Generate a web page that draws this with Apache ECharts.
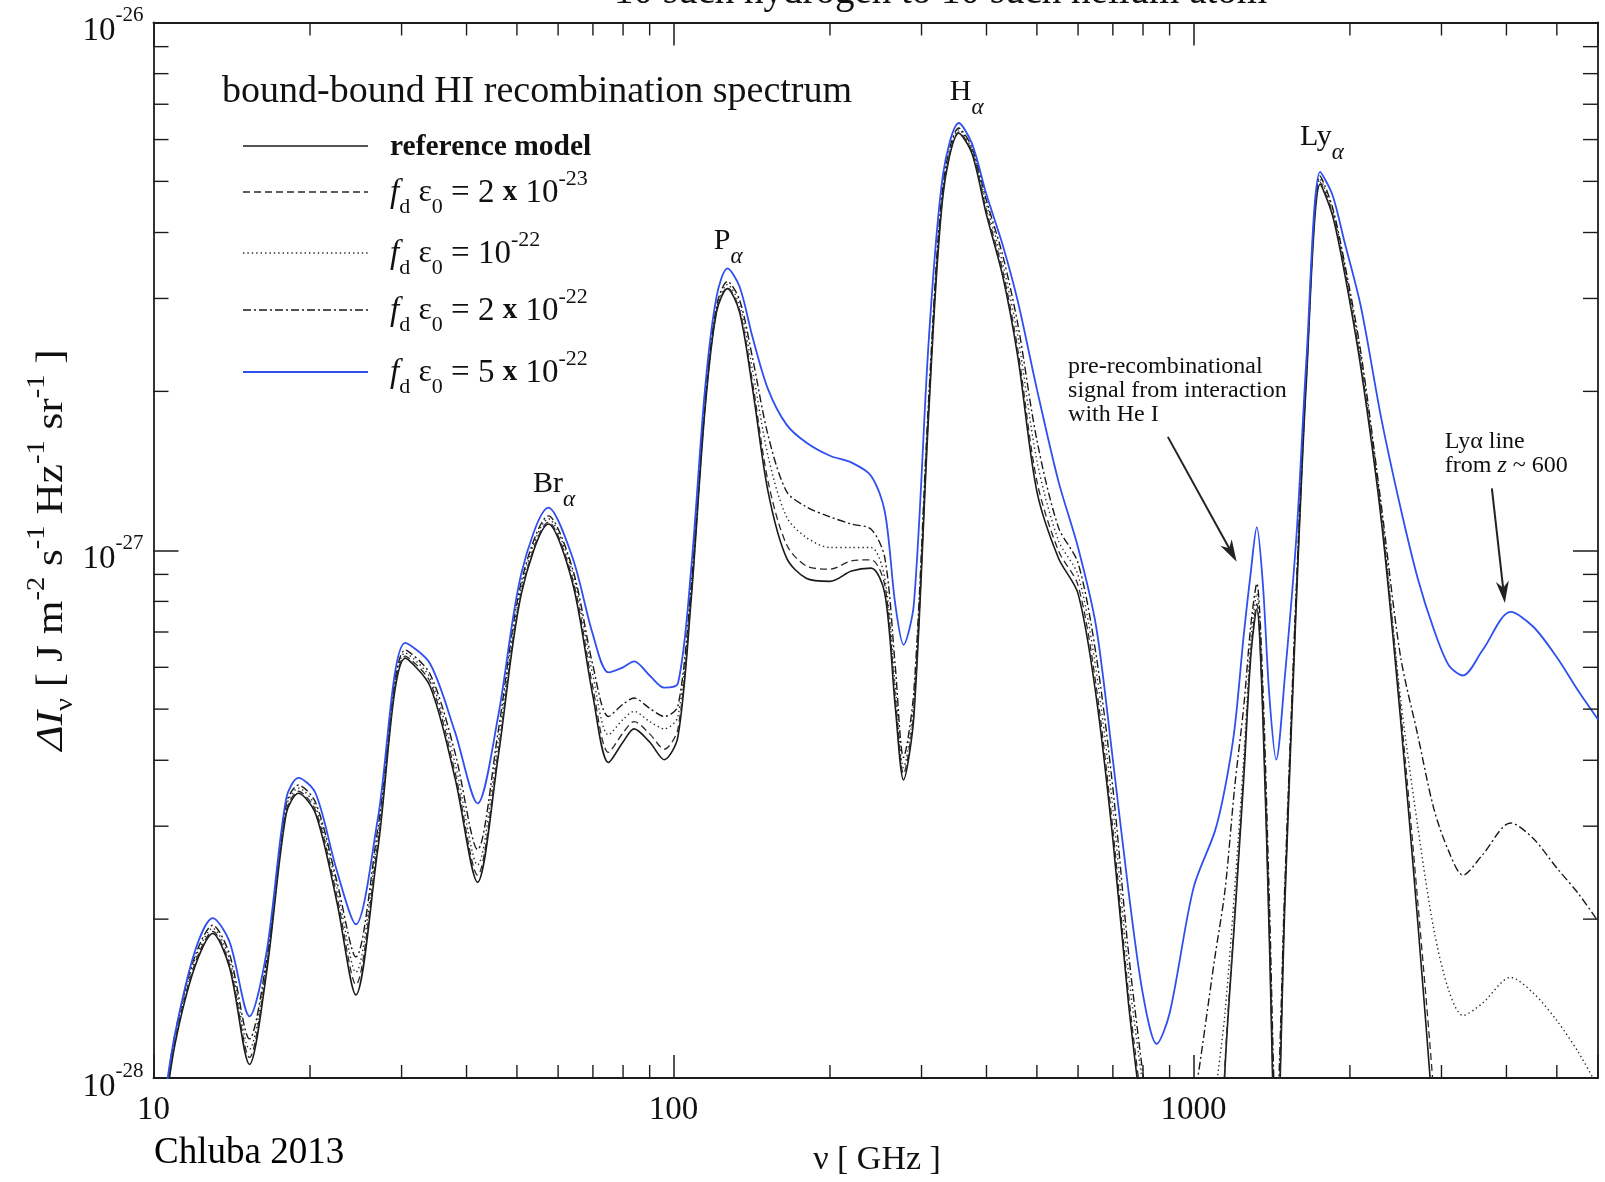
<!DOCTYPE html>
<html>
<head>
<meta charset="utf-8">
<script src="https://cdn.jsdelivr.net/npm/echarts@6/dist/echarts.min.js"></script>
<style>
html,body{margin:0;padding:0;background:#fff;}
#c{width:1605px;height:1182px;}
</style>
</head>
<body>
<div id="c"></div>
<script>
// ---------------- data (frequency in GHz, intensity in units of 1e-28 J m^-2 s^-1 Hz^-1 sr^-1) -------------
const nu = [10.5, 11, 12, 13, 14, 15.3, 16.5, 18, 19, 20.5, 22.5, 24.5, 27, 30.5, 34, 38, 42, 46, 51, 57.5,
  64, 70, 75, 80, 84, 90, 96, 102, 108, 115, 121, 127, 134, 142, 152, 165, 180, 200, 220, 240,
  255, 267, 277, 290, 310, 330, 354, 375, 400, 430, 460, 500, 550, 600, 650, 700, 750, 800, 850, 900,
  1000, 1100, 1150, 1200, 1250, 1290, 1324, 1360, 1400, 1443, 1500, 1580, 1650, 1753, 1850, 1950, 2100, 2300, 2500, 2700,
  2900, 3100, 3300, 3600, 4075, 4500, 5000, 5500, 6000];

const refModel = [0.848, 1.160, 1.621, 1.878, 1.621, 1.061, 1.586, 3.168, 3.464, 3.168,
  2.167, 1.437, 2.710, 6.246, 5.536, 3.704, 2.349, 4.050, 8.277, 11.21,
  8.65, 5.29, 3.961, 4.331, 4.588, 4.331, 4.01, 4.429, 7.91, 18.49,
  28.26, 31.32, 28.26, 20.2, 12.93, 9.67, 8.85, 8.73, 9.13, 9.25,
  8.277, 5.063, 3.671, 4.842, 18.49, 47.2, 61.7, 56.5, 43.2, 33.0,
  23.1, 12.93, 9.67, 8.277, 5.29, 2.833, 1.387, 0.811, 0.519, 0.332,
  0.213, 0.332, 1.037, 1.982, 3.704, 6.33, 7.74, 4.842, 1.813, 0.649,
  2.167, 8.277, 21.1, 49.4, 43.2, 33.8, 22.1, 11.31, 4.842, 1.982,
  0.811, 0.332, 0.213, 0.2, 0.2, 0.2, 0.2, 0.2, 0.2];

const fd2e23 = [0.868, 1.181, 1.643, 1.895, 1.643, 1.094, 1.614, 3.211, 3.494, 3.211,
  2.226, 1.503, 2.782, 6.30, 5.64, 3.805, 2.423, 4.141, 8.35, 11.31,
  8.81, 5.49, 4.141, 4.508, 4.735, 4.488, 4.198, 4.588, 8.06, 18.66,
  28.39, 31.46, 28.51, 20.76, 13.52, 10.25, 9.34, 9.21, 9.545, 9.59,
  8.58, 5.29, 3.771, 4.974, 18.91, 47.6, 62.0, 56.98, 43.97, 33.8,
  23.85, 13.52, 9.98, 8.58, 5.536, 2.963, 1.450, 0.848, 0.519, 0.332,
  0.213, 0.332, 1.061, 2.027, 3.839, 6.47, 7.91, 4.951, 1.878, 0.679,
  2.216, 8.46, 21.42, 49.83, 43.58, 34.2, 22.50, 11.57, 5.063, 2.167,
  0.928, 0.332, 0.213, 0.213, 0.213, 0.213, 0.213, 0.213, 0.213];

const fd1e22 = [0.879, 1.197, 1.672, 1.921, 1.680, 1.134, 1.651, 3.268, 3.542, 3.268,
  2.307, 1.586, 2.872, 6.389, 5.737, 3.961, 2.534, 4.331, 8.54, 11.47,
  9.05, 5.79, 4.468, 4.78, 4.951, 4.735, 4.588, 4.842, 8.277, 18.91,
  28.63, 31.88, 29.15, 21.9, 15.1, 11.57, 10.58, 10.12, 10.12, 10.12,
  8.85, 5.536, 3.873, 5.177, 19.33, 48.3, 62.6, 57.5, 45.2, 34.85,
  25.3, 14.79, 10.44, 8.97, 5.92, 3.239, 1.586, 0.961, 0.649, 0.415,
  0.332, 0.907, 1.326, 2.266, 4.050, 6.77, 8.277, 5.177, 1.982, 0.742,
  2.266, 8.65, 21.9, 50.5, 44.2, 34.85, 23.1, 11.83, 5.29, 3.002,
  1.912, 1.463, 1.314, 1.387, 1.551, 1.450, 1.285, 1.119, 0.961];

const fd2e22 = [0.887, 1.213, 1.696, 1.947, 1.718, 1.186, 1.680, 3.313, 3.590, 3.327,
  2.370, 1.696, 2.963, 6.47, 5.84, 4.141, 2.710, 4.527, 8.73, 11.62,
  9.21, 6.05, 4.842, 5.108, 5.248, 5.017, 4.842, 5.063, 8.46, 19.16,
  29.03, 32.31, 29.82, 23.1, 16.53, 12.93, 12.09, 11.57, 11.21, 10.96,
  9.67, 6.05, 4.050, 5.41, 19.77, 49.4, 63.1, 58.0, 45.98, 36.13,
  26.66, 16.17, 11.06, 9.46, 6.33, 3.542, 1.733, 1.014, 0.649, 0.519,
  0.887, 1.696, 2.266, 3.542, 5.063, 7.24, 8.65, 5.536, 2.167, 0.811,
  2.370, 8.85, 22.1, 51.2, 44.76, 35.32, 23.64, 12.09, 6.33, 4.468,
  3.239, 2.685, 2.423, 2.650, 3.043, 2.846, 2.500, 2.236, 1.982];

const fd5e22 = [0.907, 1.213, 1.733, 2.009, 1.813, 1.309, 1.733, 3.388, 3.704, 3.464,
  2.478, 1.956, 3.098, 6.678, 6.107, 4.527, 3.313, 4.842, 9.05, 12.04,
  9.67, 6.92, 5.87, 6.00, 6.16, 5.79, 5.49, 5.59, 9.05, 20.2,
  30.2, 34.2, 31.6, 25.3, 20.2, 17.3, 16.0, 15.1, 14.66, 13.83,
  11.83, 7.91, 6.62, 7.91, 25.3, 51.6, 64.5, 59.0, 47.2, 37.8,
  29.5, 20.2, 13.52, 10.12, 7.17, 4.01, 2.266, 1.437, 1.160, 1.326,
  2.287, 2.936, 3.542, 4.588, 6.92, 9.13, 11.06, 8.65, 5.29, 4.01,
  5.79, 10.82, 23.1, 52.1, 47.2, 38.6, 28.9, 17.7, 12.09, 8.85,
  7.08, 6.05, 5.79, 6.47, 7.64, 7.17, 6.27, 5.41, 4.78];

const seriesNames = ['reference model', 'f_d e_0 = 2 x 10^-23', 'f_d e_0 = 10^-22', 'f_d e_0 = 2 x 10^-22', 'f_d e_0 = 5 x 10^-22'];
const legendLabels = [
  '{r|reference model}',
  '{f|f}{sub|d} {e|ε}{sub|0} = 2 {x|x} 10{sup|-23}',
  '{f|f}{sub|d} {e|ε}{sub|0} = 10{sup|-22}',
  '{f|f}{sub|d} {e|ε}{sub|0} = 2 {x|x} 10{sup|-22}',
  '{f|f}{sub|d} {e|ε}{sub|0} = 5 {x|x} 10{sup|-22}'
];

const xTickLabels = {10: '10', 100: '100', 1000: '1000'};
const yTickExponents = {1: '-28', 10: '-27', 100: '-26'};
const xMinorTicks = [20, 30, 40, 50, 60, 70, 80, 90, 200, 300, 400, 500, 600, 700, 800, 900, 2000, 3000, 4000, 5000];
const yMinorTicks = [2, 3, 4, 5, 6, 7, 8, 9, 20, 30, 40, 50, 60, 70, 80, 90];

// line identifications [GHz, 1e-28 units]
const lineLabels = [
  {base: 'Br', sub: 'α', at: [53.7, 13.35]},
  {base: 'P', sub: 'α', at: [119.6, 38.5]},
  {base: 'H', sub: 'α', at: [340, 73.8]},
  {base: 'Ly', sub: 'α', at: [1603, 60.7]}
];
const notes = [
  {text: 'pre-recombinational\nsignal from interaction\nwith He I', at: [574, 20.1]},
  {text: 'Lyα line\n{n|from }{i|z}{n| ~ 600}', at: [3045, 15.25]}
];
const arrows = [
  {from: [893, 16.4], to: [1211, 9.51]},
  {from: [3750, 13.1], to: [3972, 7.94]}
];

// ---------------- layout / style -------------
const SERIF = '"Liberation Serif", "Times New Roman", serif';
const X_MIN = 10, X_MAX = 6000, Y_MIN = 1, Y_MAX = 100;
const INK = '#1c1c1c';
const styles = [
  {color: '#1a1a1a', width: 1.6, type: 'solid'},
  {color: '#2a2a2a', width: 1.3, type: [7, 4]},
  {color: '#2a2a2a', width: 1.4, type: [1.4, 3]},
  {color: '#1a1a1a', width: 1.4, type: [8, 3, 2, 3]},
  {color: '#2f50ee', width: 1.8, type: 'solid'}
];
const dataSets = [refModel, fd2e23, fd1e22, fd2e22, fd5e22];

const chart = echarts.init(document.getElementById('c'), null, {renderer: 'canvas', width: 1605, height: 1182});

const axisLine = {show: true, lineStyle: {color: INK, width: 1.8}};
function xAxisDef(pos) {
  return {
    type: 'log', logBase: 10, min: X_MIN, max: X_MAX, position: pos,
    axisLine: axisLine,
    axisTick: {show: true, inside: true, length: 23, lineStyle: {color: INK, width: 1.5}},
    axisLabel: pos === 'bottom' ? {
      show: true, margin: 16, fontFamily: SERIF, fontSize: 33, color: '#111',
      formatter: v => xTickLabels[Math.round(v)] || ''
    } : {show: false},
    splitLine: {show: false}
  };
}
function yAxisDef(pos) {
  return {
    type: 'log', logBase: 10, min: Y_MIN, max: Y_MAX, position: pos,
    axisLine: axisLine,
    axisTick: {show: true, inside: true, length: 25, lineStyle: {color: INK, width: 1.5}},
    axisLabel: pos === 'left' ? {
      show: true, margin: 10, color: '#111',
      formatter: v => {
        const e = yTickExponents[Math.round(v)];
        return e ? '{b|10}{s|' + e + '}' : '';
      },
      rich: {
        b: {fontFamily: SERIF, fontSize: 33, color: '#111', padding: [18, 0, 0, 0]},
        s: {fontFamily: SERIF, fontSize: 21, color: '#111', padding: [0, 0, 14, 0]}
      }
    } : {show: false},
    splitLine: {show: false}
  };
}

function tickSeries(values, dir) {
  return {
    type: 'custom', silent: true, z: 5, xAxisIndex: 0, yAxisIndex: 0,
    data: values.map(v => dir === 'x' ? [v, Y_MIN] : [X_MIN, v]),
    renderItem: (params, api) => {
      const v = dir === 'x' ? api.value(0) : api.value(1);
      const st = {stroke: INK, lineWidth: 1.4};
      if (dir === 'x') {
        const b = api.coord([v, Y_MIN]), t = api.coord([v, Y_MAX]);
        return {type: 'group', children: [
          {type: 'line', shape: {x1: b[0], y1: b[1], x2: b[0], y2: b[1] - 13}, style: st},
          {type: 'line', shape: {x1: t[0], y1: t[1], x2: t[0], y2: t[1] + 13}, style: st}
        ]};
      }
      const l = api.coord([X_MIN, v]), r = api.coord([X_MAX, v]);
      return {type: 'group', children: [
        {type: 'line', shape: {x1: l[0], y1: l[1], x2: l[0] + 15, y2: l[1]}, style: st},
        {type: 'line', shape: {x1: r[0], y1: r[1], x2: r[0] - 15, y2: r[1]}, style: st}
      ]};
    }
  };
}

const series = dataSets.map((d, i) => ({
  type: 'line', name: seriesNames[i],
  data: nu.map((x, k) => [x, d[k]]),
  showSymbol: false, symbol: 'none', smooth: 0.3, clip: true,
  z: i === 4 ? 4 : 3,
  lineStyle: {color: styles[i].color, width: styles[i].width, type: styles[i].type},
  emphasis: {disabled: true}
}));
series.push(tickSeries(xMinorTicks, 'x'));
series.push(tickSeries(yMinorTicks, 'y'));

chart.setOption({
  animation: false,
  backgroundColor: '#ffffff',
  grid: {left: 153.5, right: 7, top: 22.5, bottom: 104, containLabel: false},
  xAxis: [xAxisDef('bottom'), xAxisDef('top')],
  yAxis: [yAxisDef('left'), yAxisDef('right')],
  series: series
});

// ---------------- annotations anchored to data coordinates -------------
const px = p => chart.convertToPixel({gridIndex: 0}, p);
const graphics = [];

// partially visible heading at the very top (cut off by the page edge)
graphics.push({type: 'text', z: 10, style: {text: '10 such hydrogen to 10 such helium atom', x: 614, y: -7,
  fontFamily: SERIF, fontSize: 39, fill: '#111', align: 'left', verticalAlign: 'middle'}});

// legend block
graphics.push({type: 'text', z: 10, style: {text: 'bound-bound HI recombination spectrum', x: 222, y: 92,
  fontFamily: SERIF, fontSize: 38, fill: '#111', align: 'left', verticalAlign: 'middle'}});
const legendY = [146, 192, 253, 310, 372];
const legendRich = {
  r: {fontFamily: SERIF, fontSize: 29.5, fontWeight: 'bold', fill: '#111'},
  f: {fontFamily: SERIF, fontSize: 33, fontStyle: 'italic', fill: '#111'},
  e: {fontFamily: SERIF, fontSize: 32, fill: '#111'},
  x: {fontFamily: SERIF, fontSize: 29, fontWeight: 'bold', fill: '#111'},
  sub: {fontFamily: SERIF, fontSize: 22, fill: '#111', padding: [28, 0, 0, 0]},
  sup: {fontFamily: SERIF, fontSize: 22, fill: '#111', padding: [0, 0, 27, 0]}
};
legendY.forEach((y, i) => {
  const s = styles[i];
  graphics.push({type: 'line', z: 10, shape: {x1: 243, y1: y, x2: 368, y2: y},
    style: {stroke: s.color, lineWidth: s.width, lineDash: Array.isArray(s.type) ? s.type : null}});
  graphics.push({type: 'text', z: 10, style: {text: legendLabels[i], x: 390, y: y + 1,
    fontFamily: SERIF, fontSize: 33, fill: '#111', align: 'left', verticalAlign: 'middle', rich: legendRich}});
});

// line identifications
lineLabels.forEach(l => {
  const p = px(l.at);
  graphics.push({type: 'text', z: 10, style: {text: '{b|' + l.base + '}{s|' + l.sub + '}', x: p[0], y: p[1],
    align: 'left', verticalAlign: 'middle',
    rich: {
      b: {fontFamily: SERIF, fontSize: 30, fill: '#111'},
      s: {fontFamily: SERIF, fontSize: 23, fontStyle: 'italic', fill: '#111', padding: [32, 0, 0, 0]}
    }}});
});

// notes
notes.forEach(n => {
  const p = px(n.at);
  graphics.push({type: 'text', z: 10, style: {text: n.text, x: p[0], y: p[1], align: 'left', verticalAlign: 'middle',
    fontFamily: SERIF, fontSize: 24, lineHeight: 24, fill: '#111',
    rich: {n: {fontFamily: SERIF, fontSize: 24, lineHeight: 24, fill: '#111'},
           i: {fontFamily: SERIF, fontSize: 24, lineHeight: 24, fontStyle: 'italic', fill: '#111'}}}});
});

// arrows
arrows.forEach(a => {
  const p0 = px(a.from), p1 = px(a.to);
  const dx = p1[0] - p0[0], dy = p1[1] - p0[1];
  const L = Math.sqrt(dx * dx + dy * dy), ux = dx / L, uy = dy / L;
  const hl = 22, hw = 6.5;
  const bx = p1[0] - ux * hl, by = p1[1] - uy * hl;
  const nx = p1[0] - ux * hl * 0.7, ny = p1[1] - uy * hl * 0.7;
  graphics.push({type: 'line', z: 10, shape: {x1: p0[0], y1: p0[1], x2: nx, y2: ny}, style: {stroke: '#222', lineWidth: 2}});
  graphics.push({type: 'polygon', z: 10, shape: {points: [
    [p1[0], p1[1]], [bx - uy * hw, by + ux * hw], [nx, ny], [bx + uy * hw, by - ux * hw]
  ]}, style: {fill: '#222'}});
});

// axis titles and credit
graphics.push({type: 'text', z: 10, style: {text: 'ν [ GHz ]', x: 877, y: 1160, align: 'center', verticalAlign: 'middle',
  fontFamily: SERIF, fontSize: 34, fill: '#111'}});
graphics.push({type: 'text', z: 10, style: {text: 'Chluba 2013', x: 154, y: 1153, align: 'left', verticalAlign: 'middle',
  fontFamily: SERIF, fontSize: 37, fill: '#000'}});
graphics.push({type: 'text', z: 10, x: 52, y: 550, rotation: Math.PI / 2, scaleX: 1.14,
  style: {text: '{bi|Δ}{bi|I}{sub|ν}{b| [ J m}{sup|-2}{b| s}{sup|-1}{b| Hz}{sup|-1}{b| sr}{sup|-1}{b| ]}',
    x: 0, y: 0, align: 'center', verticalAlign: 'middle',
    rich: {
      b: {fontFamily: SERIF, fontSize: 38, fill: '#111'},
      bi: {fontFamily: SERIF, fontSize: 38, fontStyle: 'italic', fill: '#111'},
      sub: {fontFamily: SERIF, fontSize: 25, fill: '#111', padding: [26, 0, 0, 0]},
      sup: {fontFamily: SERIF, fontSize: 25, fill: '#111', padding: [0, 0, 30, 0]}
    }}});

chart.setOption({graphic: graphics});
</script>
</body>
</html>
